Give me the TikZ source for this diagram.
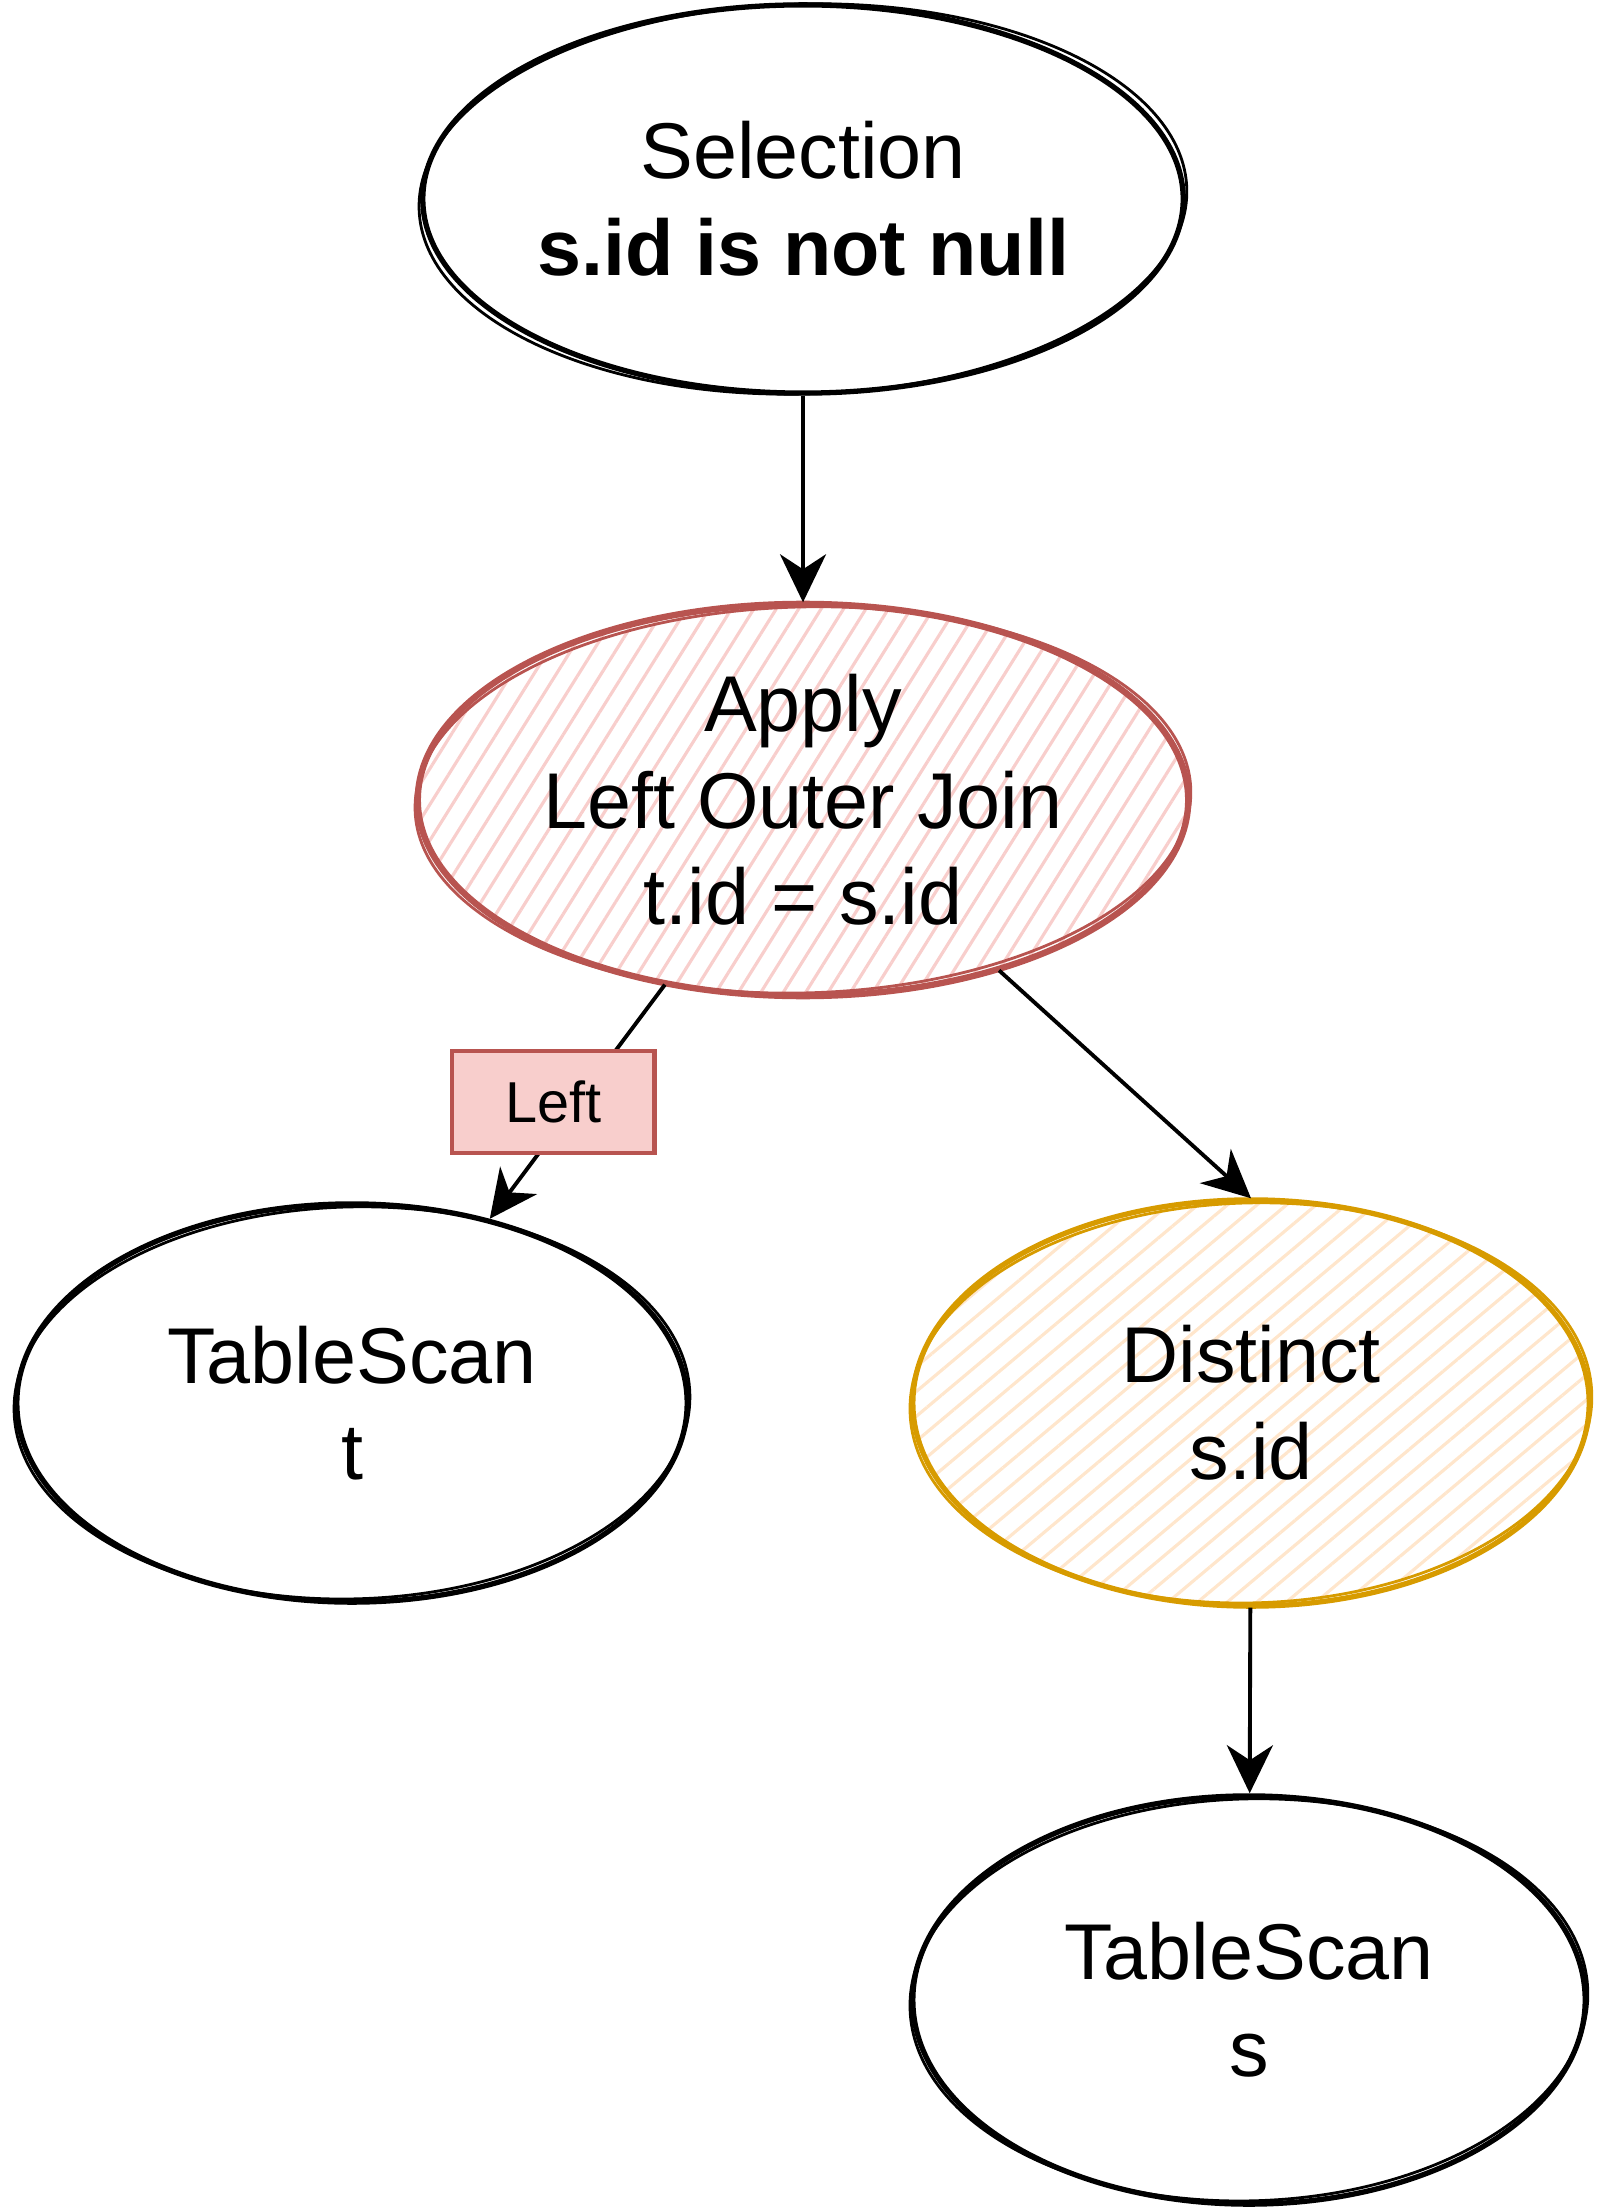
\documentclass[tikz,border=0pt]{standalone}
\usepackage{fontspec}
\setmainfont{Liberation Sans}
\usepackage{tikz}
\usetikzlibrary{arrows.meta,shapes.geometric,patterns.meta,positioning}
\definecolor{applyred}{HTML}{B85450}
\definecolor{applyfill}{HTML}{F8CECC}
\definecolor{distorange}{HTML}{D79B00}
\definecolor{distfill}{HTML}{FFE6CC}

\begin{document}
\begin{tikzpicture}
[   x=0.01cm, y=-0.01cm,
    opnode/.style={ellipse, draw=black, line width=1.5pt, inner sep=0pt, align=center, font=\fontsize{22.5}{27.5}\selectfont},
    edge/.style={line width=1.1pt, -{Stealth[length=4.8mm,width=4.6mm,inset=1.5mm]}},
    lbl/.style={draw=applyred, fill=applyfill, line width=1.2pt, minimum width=2.02cm, minimum height=1.02cm, inner sep=0pt, font=\fontsize{16.4}{19}\selectfont}, ]
    \useasboundingbox (0,0) rectangle (1605,2210);

    \node[opnode, minimum width=7.6cm, minimum height=3.88cm] (sel) at (803,199) {Selection\\\textbf{s.id is not null}};
    \node[opnode, draw=applyred, line width=1.8pt, pattern={Lines[angle=58,distance=0.19cm,line width=0.9pt]}, pattern color=applyfill, minimum width=7.7cm, minimum height=3.92cm] (apply) at (803,800) {Apply\\Left Outer Join\\t.id = s.id};
    \node[opnode, minimum width=6.7cm, minimum height=3.98cm] (tsT) at (352,1403) {TableScan\\t};
    \node[opnode, draw=distorange, pattern={Lines[angle=40,distance=0.19cm,line width=0.9pt]}, pattern color=distfill, minimum width=6.76cm, minimum height=4.06cm] (dist) at (1251,1403) {Distinct\\s.id};
    \node[opnode, minimum width=6.72cm, minimum height=4.08cm] (tsS) at (1249,2000) {TableScan\\s};

    % second rough stroke
    \foreach \n/\rx/\ry/\c in {sel/384/195/black, apply/388/193/applyred, tsT/338/196/black, dist/341/200/distorange, tsS/339/201/black}
    {
        \draw[\c, line width=0.8pt, rotate around={1.5:(\n.center)}] (\n.center) ellipse [x radius=\rx, y radius=\ry];
    }

    \draw[edge] (sel) -- (apply);
    \draw[edge] (apply) -- node[lbl, xshift=-0.24cm] (leftlbl) {Left} (tsT);
    \draw[edge] (apply.-41) -- (dist.north);
    \draw[edge] (dist) -- (tsS);

\end{tikzpicture}
\end{document}
